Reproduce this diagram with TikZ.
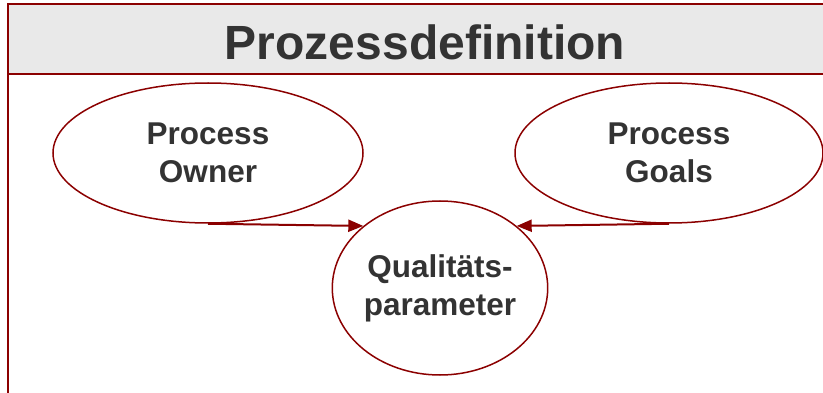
\documentclass[tikz,border=0pt]{standalone}
\usepackage{fontspec}
\setmainfont{Liberation Sans}
\usepackage{tikz}
\usetikzlibrary{shapes.geometric,arrows.meta}

\definecolor{darkred}{RGB}{139,0,0}
\definecolor{txtgray}{RGB}{51,51,51}
\definecolor{bargray}{RGB}{233,233,233}

\tikzset{
  blob/.style={ellipse,draw=darkred,line width=1.5pt,inner sep=0pt,
    align=center,text=txtgray,font=\fontsize{31.5}{38}\selectfont\bfseries},
  link/.style={draw=darkred,line width=2pt,-{Triangle[length=15pt,width=12pt]}}
}

\begin{document}
\begin{tikzpicture}[x=1pt,y=-1pt]
        \useasboundingbox (0,0) rectangle (823,393);
        \clip (0,0) rectangle (823,393);

        % frame and title bar
        \draw[darkred,line width=2pt] (8,74) rectangle (840,420);
        \draw[darkred,line width=2pt,fill=bargray] (8,4) rectangle (840,74);
        \node[text=txtgray,font=\fontsize{48}{56}\selectfont\bfseries] (title) at (425,42) {Prozessdefinition};

        % ellipses
        \node[blob,minimum width=310pt,minimum height=140pt] (owner) at (208,153) {Process\\Owner};
        \node[blob,minimum width=308pt,minimum height=140pt] (goals) at (669,153) {Process\\Goals};
        \node[blob,minimum width=212pt,minimum height=174pt] (qp) at (440,288) {Qualitäts-\\parameter};

        \draw[link] (owner.south) -- (qp.north west);
        \draw[link] (goals.south) -- (qp.north east);
\end{tikzpicture}
\end{document}
